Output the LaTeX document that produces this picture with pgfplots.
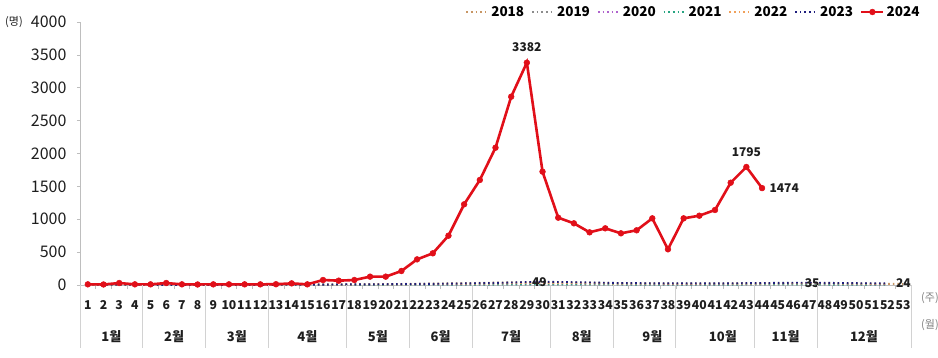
\documentclass[border=0pt]{standalone}
\usepackage{fontspec}
\setmainfont{Noto Sans CJK KR}
\usepackage{pgfplots}
\usepackage{pgfplotstable}
\pgfplotsset{compat=1.18}

\definecolor{c18}{RGB}{200,150,100}
\definecolor{c19}{RGB}{140,140,140}
\definecolor{c20}{RGB}{175,100,205}
\definecolor{c21}{RGB}{40,165,130}
\definecolor{c22}{RGB}{240,160,90}
\definecolor{c23}{RGB}{30,30,125}
\definecolor{c24}{RGB}{225,15,25}
\definecolor{axgray}{RGB}{190,190,190}
\definecolor{sepgray}{RGB}{210,210,210}
\definecolor{txt}{RGB}{30,30,30}

\pgfplotstableread{
w  a18 a19 a20 a21 a22 a23
1  5  4  3  2  3  8
2  4  4  3  2  2  6
3  4  3  2  2  2  5
4  3  3  2  1  2  4
5  3  3  2  1  2  3
6  3  3  1  1  2  3
7  3  2  1  1  2  2
8  3  2  1  1  2  2
9  3  2  1  1  2  2
10 3  2  1  1  2  2
11 3  3  1  1  2  3
12 4  3  1  1  2  3
13 4  3  1  1  3  3
14 5  4  2  1  3  4
15 6  5  2  2  4  5
16 7  6  2  2  5  6
17 9  7  2  2  6  8
18 10 9  3  3  7  9
19 12 10 3  3  8  10
20 14 12 3  3  9  12
21 16 14 4  4  10 14
22 18 16 4  4  12 16
23 21 18 5  5  14 18
24 24 21 5  5  16 20
25 28 24 6  6  18 24
26 32 27 6  6  20 28
27 36 30 7  7  23 32
28 40 33 7  7  26 38
29 44 36 8  8  28 44
30 46 38 8  8  30 49
31 44 37 8  8  29 46
32 40 35 8  8  27 42
33 36 32 7  7  25 38
34 32 30 7  7  23 34
35 29 28 7  7  21 30
36 27 26 6  6  20 28
37 25 24 6  6  19 26
38 23 23 6  6  18 25
39 22 22 6  6  18 24
40 22 22 6  6  18 24
41 22 22 6  6  19 25
42 23 23 6  6  20 26
43 24 24 7  7  21 28
44 25 25 7  7  22 30
45 26 26 7  7  23 32
46 27 26 7  7  24 34
47 27 26 7  7  24 35
48 26 25 7  7  23 33
49 24 24 6  6  22 30
50 22 22 6  6  20 28
51 20 20 5  5  18 26
52 18 18 5  5  16 24
53 16 nan nan nan nan nan
}\older

\pgfplotstableread{
w  v
1  10
2  8
3  30
4  10
5  10
6  30
7  10
8  8
9  10
10 10
11 10
12 10
13 12
14 25
15 10
16 76
17 66
18 76
19 127
20 127
21 213
22 390
23 482
24 750
25 1227
26 1597
27 2088
28 2864
29 3382
30 1724
31 1024
32 938
33 801
34 862
35 786
36 832
37 1014
38 543
39 1014
40 1054
41 1141
42 1556
43 1795
44 1474
}\cur

\begin{document}
\begin{tikzpicture}
\useasboundingbox (-80pt,-72pt) rectangle (858pt,285pt);
\begin{axis}[
  scale only axis, width=831pt, height=263pt,
  xmin=0.5, xmax=53.5, ymin=0, ymax=4000,
  clip=false,
  axis x line*=bottom, axis y line*=left,
  axis line style={axgray, line width=0.9pt},
  /pgf/number format/assume math mode=true,
  xtick={1,...,53},
  minor xtick={1.5,2.5,...,52.5},
  major x tick style={draw=none},
  minor x tick style={axgray, line width=0.6pt},
  minor tick length=4pt,
  major tick length=3pt,
  tick align=outside,
  xticklabel style={font=\fontsize{12.2}{13}\selectfont\bfseries, text=txt, yshift=-12pt, inner sep=0pt},
  ytick={0,500,...,4000},
  ytick style={axgray, line width=0.6pt},
  yticklabel style={font=\fontsize{16}{17}\selectfont, text=txt, xshift=-7pt},
  scaled y ticks=false,
  y tick label style={/pgf/number format/.cd, 1000 sep={}},
  legend columns=7,
  legend style={draw=none, fill=none, inner sep=0pt,
    font=\fontsize{13.5}{14}\selectfont\bfseries,
    at={(axis description cs:1.013,1.038)}, anchor=east,
    /tikz/every even column/.append style={column sep=5pt}},
  legend image code/.code={\draw[mark repeat=2,mark phase=2,#1] plot coordinates {(0pt,0pt) (11pt,0pt) (22pt,0pt)};},
]
\addplot[c18, line width=1.9pt, dash pattern=on 1.6pt off 3pt, unbounded coords=jump] table[x=w,y=a18] {\older};
\addlegendentry{2018}
\addplot[c19, line width=1.9pt, dash pattern=on 1.6pt off 3pt, unbounded coords=jump] table[x=w,y=a19] {\older};
\addlegendentry{2019}
\addplot[c20, line width=1.9pt, dash pattern=on 1.6pt off 3pt, unbounded coords=jump] table[x=w,y=a20] {\older};
\addlegendentry{2020}
\addplot[c21, line width=1.9pt, dash pattern=on 1.6pt off 3pt, unbounded coords=jump] table[x=w,y=a21] {\older};
\addlegendentry{2021}
\addplot[c22, line width=1.9pt, dash pattern=on 1.6pt off 3pt, unbounded coords=jump] table[x=w,y=a22] {\older};
\addlegendentry{2022}
\addplot[c23, line width=1.9pt, dash pattern=on 1.6pt off 3pt, unbounded coords=jump] table[x=w,y=a23] {\older};
\addlegendentry{2023}
\addplot[c24, line width=2.6pt, mark=*, mark size=2.9pt, mark options={fill=c24, draw=c24, line width=0.5pt}] table[x=w,y=v] {\cur};
\addlegendentry{2024}

% data labels
\node[font=\fontsize{12}{12}\selectfont\bfseries, text=txt, anchor=south] at (axis cs:29,3382) [yshift=7pt] {3382};
\node[font=\fontsize{12}{12}\selectfont\bfseries, text=txt, anchor=south] at (axis cs:43,1795) [yshift=7pt] {1795};
\node[font=\fontsize{12}{12}\selectfont\bfseries, text=txt, anchor=west] at (axis cs:44,1474) [xshift=4pt] {1474};
\node[font=\fontsize{12}{12}\selectfont\bfseries, text=txt] at (axis cs:29.8,49) {49};
\node[font=\fontsize{12}{12}\selectfont\bfseries, text=txt] at (axis cs:47.2,35) {35};
\node[font=\fontsize{12}{12}\selectfont\bfseries, text=txt, anchor=west] at (axis cs:52,24) [xshift=5pt] {24};

% month separators
\pgfplotsinvokeforeach{0.5,4.5,8.5,12.5,17.5,21.5,25.5,30.5,34.5,38.5,43.5,47.5,53.5}{
  \draw[sepgray, line width=0.8pt] (axis cs:#1,0) -- ++(0pt,-63pt);
}
% month labels
\node[font=\fontsize{13}{13}\selectfont\bfseries, text=txt] at (axis cs:2.5,0) [yshift=-52pt] {1월};
\node[font=\fontsize{13}{13}\selectfont\bfseries, text=txt] at (axis cs:6.5,0) [yshift=-52pt] {2월};
\node[font=\fontsize{13}{13}\selectfont\bfseries, text=txt] at (axis cs:10.5,0) [yshift=-52pt] {3월};
\node[font=\fontsize{13}{13}\selectfont\bfseries, text=txt] at (axis cs:15,0) [yshift=-52pt] {4월};
\node[font=\fontsize{13}{13}\selectfont\bfseries, text=txt] at (axis cs:19.5,0) [yshift=-52pt] {5월};
\node[font=\fontsize{13}{13}\selectfont\bfseries, text=txt] at (axis cs:23.5,0) [yshift=-52pt] {6월};
\node[font=\fontsize{13}{13}\selectfont\bfseries, text=txt] at (axis cs:28,0) [yshift=-52pt] {7월};
\node[font=\fontsize{13}{13}\selectfont\bfseries, text=txt] at (axis cs:32.5,0) [yshift=-52pt] {8월};
\node[font=\fontsize{13}{13}\selectfont\bfseries, text=txt] at (axis cs:37,0) [yshift=-52pt] {9월};
\node[font=\fontsize{13}{13}\selectfont\bfseries, text=txt] at (axis cs:41.5,0) [yshift=-52pt] {10월};
\node[font=\fontsize{13}{13}\selectfont\bfseries, text=txt] at (axis cs:45.5,0) [yshift=-52pt] {11월};
\node[font=\fontsize{13}{13}\selectfont\bfseries, text=txt] at (axis cs:50.5,0) [yshift=-52pt] {12월};

% unit labels
\node[font=\fontsize{11}{11}\selectfont, text=txt] at (rel axis cs:0,1) [xshift=-66pt] {(명)};
\node[font=\fontsize{11}{11}\selectfont, text=gray] at (rel axis cs:1,0) [xshift=19pt, yshift=-13pt] {(주)};
\node[font=\fontsize{11}{11}\selectfont, text=gray] at (rel axis cs:1,0) [xshift=19pt, yshift=-40pt] {(월)};
\end{axis}
\end{tikzpicture}
\end{document}
